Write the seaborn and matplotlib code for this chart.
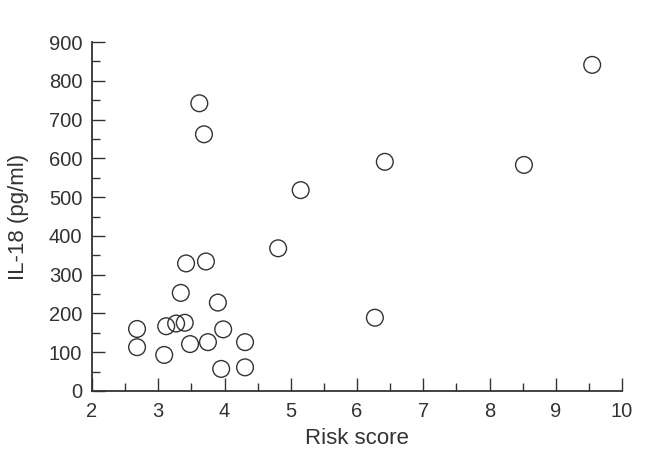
import matplotlib
matplotlib.use("Agg")
import matplotlib.pyplot as plt
import seaborn as sns
import pandas as pd
from matplotlib.ticker import MultipleLocator

risk_score = [2.68, 2.68, 3.09, 3.12, 3.27, 3.40, 3.34, 3.42, 3.48, 3.62, 3.69,
              3.72, 3.75, 3.90, 3.95, 3.98, 4.31, 4.31, 4.81, 5.15, 6.27, 6.42,
              8.52, 9.55]
il18 = [160, 113, 93, 167, 174, 176, 253, 329, 121, 742, 662,
        334, 126, 228, 57, 159, 126, 61, 368, 518, 189, 591,
        583, 841]

df = pd.DataFrame({"Risk score": risk_score, "IL-18 (pg/ml)": il18})

sns.set_style("ticks")
plt.rcParams["font.family"] = ["Liberation Sans", "DejaVu Sans"]
ink = "#333333"

fig = plt.figure(figsize=(6.46, 4.55), dpi=100)
ax = fig.add_axes([92/646, 1-391/455, (622-92)/646, (391-42)/455])

sns.scatterplot(data=df, x="Risk score", y="IL-18 (pg/ml)", ax=ax,
                marker="o", s=145, facecolors="none", edgecolor=ink,
                linewidth=1.0, clip_on=False)

ax.set_xlim(2, 10)
ax.set_ylim(0, 900)
ax.xaxis.set_major_locator(MultipleLocator(1))
ax.xaxis.set_minor_locator(MultipleLocator(0.5))
ax.yaxis.set_major_locator(MultipleLocator(100))
ax.yaxis.set_minor_locator(MultipleLocator(50))

sns.despine(ax=ax)
for s in ["left", "bottom"]:
    ax.spines[s].set_color(ink)
    ax.spines[s].set_linewidth(1.3)

ax.tick_params(which="major", direction="in", length=9.5, width=1.0,
               color=ink, labelcolor=ink, labelsize=14.5)
ax.tick_params(axis="x", which="major", pad=8)
ax.tick_params(axis="y", which="major", pad=7)
ax.tick_params(which="minor", direction="in", length=5.5, width=1.0, color=ink)
ax.set_xlabel("Risk score", fontsize=16, color=ink, labelpad=5)
ax.set_ylabel("IL-18 (pg/ml)", fontsize=16, color=ink, labelpad=14)

fig.savefig("out.png", dpi=100)
